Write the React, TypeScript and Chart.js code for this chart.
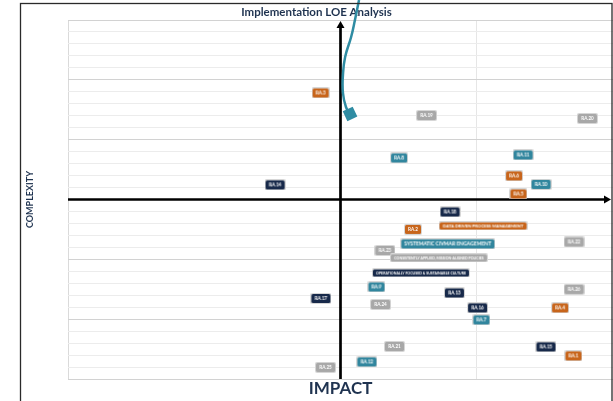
import React, { useEffect, useRef } from "react";
import { Chart, registerables } from "chart.js";

Chart.register(...registerables);

const FONT = "Lato, 'Open Sans', sans-serif";
const NAVY_TEXT = "#1F3350";

// Orange group
const orangeNames = ["RA.3", "RA.6", "RA.5", "RA.2", "DATA DRIVEN PROCESS MANAGEMENT", "RA.4", "RA.1"];
const orangeImpact = [-0.73, 6.37, 6.53, 2.66, 5.23, 8.06, 8.55];
const orangeComplexity = [8.9, 1.97, 0.46, -2.5, -2.21, -9.06, -13.07];

// Teal group
const tealNames = ["RA.8", "RA.11", "RA.10", "SYSTEMATIC CIVMAR ENGAGEMENT", "RA.9", "RA.7", "RA.12"];
const tealImpact = [2.15, 6.7, 7.36, 3.94, 1.32, 5.17, 0.97];
const tealComplexity = [3.47, 3.72, 1.26, -3.71, -7.31, -10.06, -13.57];

// Navy group
const navyNames = ["RA.14", "RA.18", "OPERATIONALLY FOCUSED & SUSTAINABLE CULTURE", "RA.13", "RA.17", "RA.16", "RA.15"];
const navyImpact = [-2.4, 4.02, 2.95, 4.18, -0.72, 5.03, 7.54];
const navyComplexity = [1.22, -1.04, -6.14, -7.81, -8.27, -9.06, -12.32];

// Gray group
const grayNames = ["RA.19", "RA.20", "RA.22", "RA.23", "CONSISTENTLY APPLIED, MISSION-ALIGNED POLICIES", "RA.26", "RA.24", "RA.21", "RA.25"];
const grayImpact = [3.16, 9.06, 8.57, 1.63, 3.61, 8.57, 1.47, 1.98, -0.55];
const grayComplexity = [7.02, 6.77, -3.55, -4.26, -4.88, -7.51, -8.77, -12.28, -14.03];

// Decorative teal callout curve
const curveImpact = [0.68, 0.53, 0.39, 0.17, 0.09, 0.09, 0.2, 0.35];
const curveComplexity = [16.67, 15.0, 13.58, 11.91, 10.41, 8.9, 7.73, 7.15];

const COLORS = {
  orange: "#C8651B",
  teal: "#31869E",
  navy: "#17294A",
  gray: "#A8A8A8",
  curve: "#2F8CA3",
};

// label styling (font size, box height) for the long theme labels
const THEME_STYLE: Record<string, [number, number]> = {
  "DATA DRIVEN PROCESS MANAGEMENT": [4.3, 7],
  "SYSTEMATIC CIVMAR ENGAGEMENT": [5.0, 9],
  "CONSISTENTLY APPLIED, MISSION-ALIGNED POLICIES": [3.5, 7],
  "OPERATIONALLY FOCUSED & SUSTAINABLE CULTURE": [3.55, 7],
};

function roundRect(ctx: CanvasRenderingContext2D, x: number, y: number, w: number, h: number, r: number) {
  ctx.beginPath();
  ctx.moveTo(x + r, y);
  ctx.lineTo(x + w - r, y);
  ctx.quadraticCurveTo(x + w, y, x + w, y + r);
  ctx.lineTo(x + w, y + h - r);
  ctx.quadraticCurveTo(x + w, y + h, x + w - r, y + h);
  ctx.lineTo(x + r, y + h);
  ctx.quadraticCurveTo(x, y + h, x, y + h - r);
  ctx.lineTo(x, y + r);
  ctx.quadraticCurveTo(x, y, x + r, y);
  ctx.closePath();
}

function makeTag(text: string, color: string): HTMLCanvasElement {
  const theme = THEME_STYLE[text];
  const fs = theme ? theme[0] : 4.6;
  const h = theme ? theme[1] : 9;
  const padX = theme ? 3 : 3;
  const c = document.createElement("canvas");
  let ctx = c.getContext("2d")!;
  ctx.font = `bold ${fs}px ${FONT}`;
  const tw = ctx.measureText(text).width;
  const w = Math.ceil(tw + padX * 2 + 2);
  c.width = w;
  c.height = h + 2;
  ctx = c.getContext("2d")!;
  ctx.fillStyle = "#d6d6d6";
  roundRect(ctx, 0, 0, w, h + 2, 2);
  ctx.fill();
  ctx.fillStyle = color;
  roundRect(ctx, 1, 1, w - 2, h, 1.5);
  ctx.fill();
  ctx.font = `bold ${fs}px ${FONT}`;
  ctx.fillStyle = "#ffffff";
  ctx.textAlign = "center";
  ctx.textBaseline = "middle";
  ctx.fillText(text, w / 2, (h + 2) / 2 + 0.3);
  return c;
}

function tagDataset(label: string, names: string[], xs: number[], ys: number[], color: string) {
  return {
    type: "scatter" as const,
    label,
    data: names.map((_, i) => ({ x: xs[i], y: ys[i] })),
    pointStyle: names.map((n) => makeTag(n, color)),
    pointRadius: 6,
    showLine: false,
    clip: false as any,
  };
}

const framePlugin = {
  id: "frame",
  afterDraw(chart: any) {
    const { ctx } = chart;
    ctx.save();
    ctx.strokeStyle = "#2a2a2a";
    ctx.lineWidth = 1.3;
    ctx.strokeRect(20.5, 3.5, 591.5, 450);
    ctx.restore();
  },
};

const axesPlugin = {
  id: "quadAxes",
  beforeDatasetsDraw(chart: any) {
    const { ctx, chartArea: a, scales } = chart;
    const x0 = scales.x.getPixelForValue(0);
    const y0 = scales.y.getPixelForValue(0);
    ctx.save();
    ctx.strokeStyle = "#000";
    ctx.fillStyle = "#000";
    ctx.lineWidth = 2.7;
    // horizontal axis with arrow to the right
    const tipX = a.right - 2;
    ctx.beginPath();
    ctx.moveTo(a.left, y0);
    ctx.lineTo(tipX - 5, y0);
    ctx.stroke();
    ctx.beginPath();
    ctx.moveTo(tipX, y0);
    ctx.lineTo(tipX - 7, y0 - 4);
    ctx.lineTo(tipX - 7, y0 + 4);
    ctx.closePath();
    ctx.fill();
    // vertical axis with arrow upwards
    const tipY = a.top + 1;
    ctx.beginPath();
    ctx.moveTo(x0, a.bottom);
    ctx.lineTo(x0, tipY + 5);
    ctx.stroke();
    ctx.beginPath();
    ctx.moveTo(x0, tipY);
    ctx.lineTo(x0 - 4, tipY + 7);
    ctx.lineTo(x0 + 4, tipY + 7);
    ctx.closePath();
    ctx.fill();
    ctx.restore();
  },
};

export default function App() {
  const ref = useRef<HTMLCanvasElement | null>(null);

  useEffect(() => {
    if (!ref.current) return;
    const curveRadius = curveImpact.map((_, i) => (i === curveImpact.length - 1 ? 6 : 0));
    const chart = new Chart(ref.current, {
      type: "scatter",
      data: {
        datasets: [
          tagDataset("Orange", orangeNames, orangeImpact, orangeComplexity, COLORS.orange),
          tagDataset("Teal", tealNames, tealImpact, tealComplexity, COLORS.teal),
          tagDataset("Navy", navyNames, navyImpact, navyComplexity, COLORS.navy),
          tagDataset("Gray", grayNames, grayImpact, grayComplexity, COLORS.gray),
          {
            type: "line" as const,
            label: "Callout",
            data: curveImpact.map((x, i) => ({ x, y: curveComplexity[i] })),
            borderColor: COLORS.curve,
            borderWidth: 2.5,
            tension: 0.45,
            pointRadius: curveRadius,
            pointStyle: "rectRot",
            rotation: 20,
            pointBackgroundColor: COLORS.curve,
            pointBorderColor: COLORS.curve,
            showLine: true,
            clip: false as any,
          } as any,
        ],
      },
      options: {
        animation: false,
        responsive: false,
        events: [],
        layout: { autoPadding: false, padding: { left: 20, right: 0, top: 0, bottom: 0 } },
        plugins: {
          legend: { display: false },
          tooltip: { enabled: false },
          title: {
            display: true,
            text: "Implementation LOE Analysis",
            color: NAVY_TEXT,
            font: { family: FONT, size: 11.5, weight: "bold", lineHeight: 1.2 },
            padding: { top: 5.1, bottom: 1.1 },
          },
        },
        scales: {
          x: {
            type: "linear",
            min: -10,
            max: 10,
            ticks: { display: false, stepSize: 5 },
            border: { display: false },
            grid: {
              drawTicks: false,
              color: (c: any) =>
                c.tick && c.tick.value === 5 ? "#e6e6e6" : c.tick && c.tick.value === -10 ? "#dadada" : "rgba(0,0,0,0)",
              lineWidth: 1,
            },
            title: {
              display: true,
              text: "IMPACT",
              color: NAVY_TEXT,
              font: { family: FONT, size: 17, weight: "bold", lineHeight: 1 },
              padding: { top: 1, bottom: 4 },
            },
          },
          y: {
            type: "linear",
            min: -15,
            max: 15,
            ticks: { display: false, stepSize: 1 },
            border: { display: false },
            grid: {
              drawTicks: false,
              color: (c: any) => {
                const v = c.tick ? c.tick.value : 1;
                if (v === 0) return "rgba(0,0,0,0)";
                return v % 5 === 0 ? "#d2d2d2" : "#ececec";
              },
              lineWidth: 1,
            },
            title: {
              display: true,
              text: "COMPLEXITY",
              color: NAVY_TEXT,
              font: { family: FONT, size: 9, weight: "bold", lineHeight: 1.2 },
              padding: { top: 4.6, bottom: 32.6 },
            },
          },
        },
      },
      plugins: [axesPlugin, framePlugin],
    });
    return () => chart.destroy();
  }, []);

  return (
    <div style={{ position: "absolute", left: 0, top: 0, width: 613, height: 401, background: "#fff" }}>
      <canvas ref={ref} width={613} height={401} style={{ display: "block" }} />
    </div>
  );
}
